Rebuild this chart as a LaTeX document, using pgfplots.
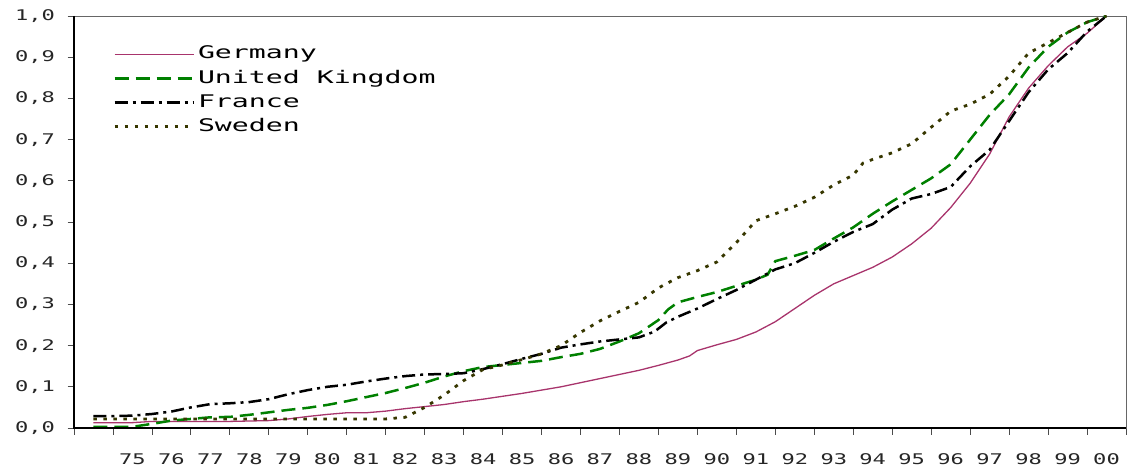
\documentclass[border=0pt]{standalone}
\usepackage{fontspec}
\setmainfont{DejaVu Sans Mono}[FakeStretch=1.5]
\newfontfamily\legfont{DejaVu Sans Mono}[FakeStretch=1.62]
\usepackage{pgfplots}
\pgfplotsset{compat=1.18}
\definecolor{germ}{RGB}{168,52,108}
\definecolor{ukg}{RGB}{0,128,0}
\definecolor{swe}{RGB}{55,55,0}
\begin{document}
\begin{tikzpicture}
\begin{axis}[
  scale only axis, width=1052pt, height=412pt,
  xmin=1974, xmax=2001, ymin=0, ymax=1,
  axis line style={draw=black!60, line width=0.8pt},
  tick align=outside, xtick pos=bottom, ytick pos=left,
  major tick length=6.5pt,
  tick style={black!70, line width=0.8pt},
  xtick={1974,1975,...,2001},
  xticklabels={,75,76,77,78,79,80,81,82,83,84,85,86,87,88,89,90,91,92,93,94,95,96,97,98,99,00,},
  xticklabel style={xshift=19.48pt, yshift=-16pt},
  ytick={0,0.1,...,1.0},
  /pgf/number format/fixed, /pgf/number format/fixed zerofill, /pgf/number format/precision=1,
  /pgf/number format/use comma, /pgf/number format/assume math mode=true,
  yticklabel style={xshift=-9pt},
  ticklabel style={font=\fontsize{14.7}{17}\selectfont, text=black!85},
  legend style={at={(0.0371,0.937)}, anchor=north west, draw=none, fill=none, inner sep=0pt,
    font=\legfont\fontsize{17.4}{20}\selectfont, column sep=3pt,
    nodes={inner xsep=0pt, inner ysep=4pt, text height=12.7pt, text depth=3.5pt}},
  legend cell align=left,
  legend image code/.code={\draw[#1] (0pt,0pt) -- (79pt,0pt);},
  after end axis/.code={
    \draw[black, line width=2pt] (rel axis cs:0,1) -- (rel axis cs:0,0) -- (rel axis cs:1,0);
    \coordinate (ll) at (rel axis cs:0,0);
    \coordinate (ur) at (rel axis cs:1,1);
  },
]
\addplot[germ, line width=1.3pt] coordinates {
(1974.5,0.013)(1975,0.013)(1975.5,0.013)(1976,0.016)(1977,0.016)(1978,0.016)(1979,0.018)(1979.5,0.022)
(1980,0.028)(1980.5,0.033)(1981,0.037)(1981.5,0.037)(1982,0.041)(1982.5,0.047)(1983,0.052)(1983.5,0.057)
(1984,0.064)(1984.5,0.07)(1985,0.077)(1985.5,0.084)(1986,0.092)(1986.5,0.1)(1987,0.11)(1987.5,0.12)
(1988,0.13)(1988.5,0.14)(1989,0.152)(1989.5,0.165)(1989.8,0.175)(1990,0.188)(1990.5,0.202)(1991,0.215)
(1991.5,0.233)(1992,0.258)(1992.5,0.29)(1993,0.322)(1993.5,0.35)(1994,0.37)(1994.5,0.39)(1995,0.415)
(1995.5,0.447)(1996,0.485)(1996.5,0.535)(1997,0.594)(1997.5,0.665)(1998,0.755)(1998.5,0.825)(1999,0.879)
(1999.5,0.925)(2000,0.958)(2000.5,1.0)
};
\addlegendentry{Germany}
\addplot[ukg, line width=2.5pt, dash pattern=on 14pt off 7pt] coordinates {
(1974.5,0.003)(1975,0.003)(1975.5,0.003)(1976,0.010)(1976.5,0.018)(1977,0.022)(1977.5,0.026)(1978,0.027)
(1978.5,0.032)(1979,0.038)(1979.5,0.044)(1980,0.049)(1980.5,0.056)(1981,0.065)(1981.5,0.075)(1982,0.085)
(1982.5,0.097)(1983,0.11)(1983.5,0.125)(1984,0.138)(1984.5,0.148)(1985,0.153)(1985.5,0.158)(1986,0.163)
(1986.5,0.172)(1987,0.18)(1987.5,0.192)(1988,0.21)(1988.5,0.23)(1989,0.262)(1989.25,0.288)(1989.5,0.305)
(1990,0.318)(1990.5,0.33)(1991,0.345)(1991.5,0.36)(1991.8,0.372)(1992,0.405)(1992.5,0.418)(1993,0.432)
(1993.5,0.46)(1994,0.487)(1994.5,0.52)(1995,0.55)(1995.5,0.578)(1996,0.606)(1996.5,0.64)(1997,0.7)
(1997.5,0.76)(1998,0.81)(1998.5,0.875)(1999,0.925)(1999.5,0.96)(2000,0.985)(2000.5,1.0)
};
\addlegendentry{United Kingdom}
\addplot[black, line width=2.5pt, dash pattern=on 13pt off 5pt on 3pt off 5pt] coordinates {
(1974.5,0.029)(1975,0.029)(1975.5,0.03)(1976,0.034)(1976.5,0.04)(1977,0.05)(1977.5,0.058)(1978,0.06)
(1978.5,0.063)(1979,0.07)(1979.5,0.082)(1980,0.092)(1980.5,0.1)(1981,0.105)(1981.5,0.113)(1982,0.12)
(1982.5,0.126)(1983,0.13)(1983.5,0.131)(1984,0.133)(1984.5,0.143)(1985,0.155)(1985.5,0.168)(1986,0.18)
(1986.5,0.195)(1987,0.203)(1987.5,0.21)(1988,0.215)(1988.5,0.22)(1988.9,0.234)(1989.2,0.256)(1989.5,0.27)
(1990,0.29)(1990.5,0.313)(1991,0.335)(1991.5,0.36)(1992,0.385)(1992.5,0.4)(1993,0.425)(1993.5,0.452)
(1994,0.476)(1994.5,0.495)(1995,0.53)(1995.5,0.557)(1996,0.568)(1996.5,0.585)(1997,0.635)(1997.5,0.675)
(1998,0.745)(1998.5,0.815)(1999,0.87)(1999.5,0.91)(2000,0.962)(2000.5,1.0)
};
\addlegendentry{France}
\addplot[swe, line width=2.8pt, dash pattern=on 3.5pt off 6.5pt] coordinates {
(1974.5,0.022)(1976,0.022)(1978,0.022)(1980,0.022)(1982,0.022)(1982.5,0.026)(1983,0.05)(1983.5,0.08)
(1984,0.115)(1984.5,0.142)(1985,0.153)(1985.5,0.166)(1986,0.18)(1986.5,0.2)(1987,0.232)(1987.5,0.26)
(1988,0.283)(1988.5,0.305)(1989,0.34)(1989.5,0.365)(1990,0.382)(1990.5,0.403)(1991,0.45)(1991.5,0.503)
(1992,0.52)(1992.5,0.538)(1993,0.56)(1993.5,0.59)(1994,0.614)(1994.25,0.643)(1994.5,0.652)(1995,0.668)
(1995.5,0.69)(1996,0.73)(1996.5,0.769)(1997,0.786)(1997.5,0.81)(1998,0.854)(1998.5,0.91)(1999,0.935)
(1999.5,0.96)(2000,0.985)(2000.5,1.0)
};
\addlegendentry{Sweden}
\end{axis}
\pgfresetboundingbox
\path ([shift={(-74pt,-45pt)}]ll) rectangle ([shift={(2pt,16pt)}]ur);
\end{tikzpicture}
\end{document}
